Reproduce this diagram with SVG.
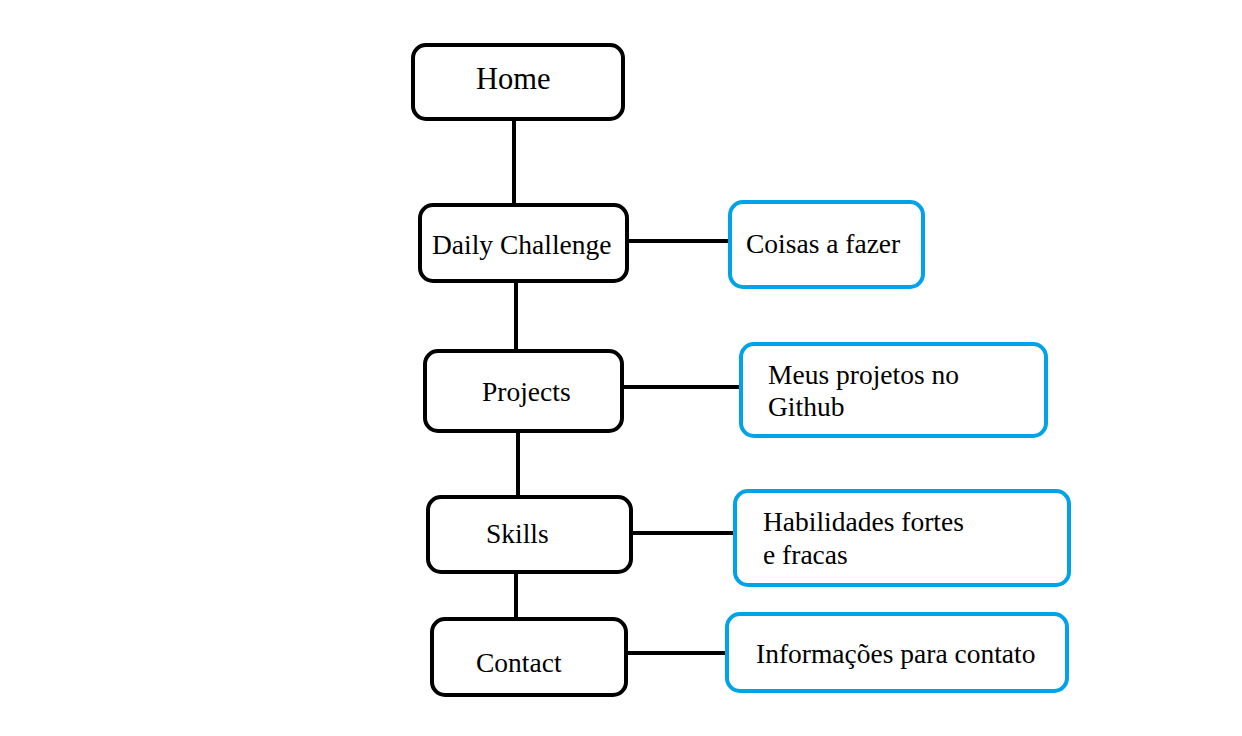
<svg xmlns="http://www.w3.org/2000/svg" width="1242" height="736" viewBox="0 0 1242 736">
<style>
.n{fill:#fff;stroke:#000;stroke-width:4}
.d{fill:#fff;stroke:#00a2e8;stroke-width:4}
.c{stroke:#000;stroke-width:4;fill:none}
text{font-family:"Liberation Serif","Times New Roman",serif;font-size:27.5px;fill:#000}
</style>
<rect width="1242" height="736" fill="#fff"/>
<g id="connectors">
<line class="c" x1="514" y1="119" x2="514" y2="205"/>
<line class="c" x1="516" y1="281" x2="516" y2="351"/>
<line class="c" x1="518" y1="431" x2="518" y2="497"/>
<line class="c" x1="516" y1="572" x2="516" y2="619"/>
<line class="c" x1="627" y1="241" x2="730" y2="241"/>
<line class="c" x1="622" y1="387" x2="741" y2="387"/>
<line class="c" x1="631" y1="533" x2="735" y2="533"/>
<line class="c" x1="626" y1="653" x2="727" y2="653"/>
</g>
<g id="home"><rect class="n" x="413" y="45" width="210" height="74" rx="13"/><text x="476" y="89" style="font-size:30.5px">Home</text></g>
<g id="daily"><rect class="n" x="420" y="205" width="207" height="76" rx="13"/><text x="432" y="254">Daily Challenge</text></g>
<g id="coisas"><rect class="d" x="730" y="202" width="193" height="85" rx="13"/><text x="746" y="253">Coisas a fazer</text></g>
<g id="projects"><rect class="n" x="425" y="351" width="197" height="80" rx="13"/><text x="482" y="401">Projects</text></g>
<g id="meus"><rect class="d" x="741" y="344" width="305" height="92" rx="13"/><text x="768" y="384">Meus projetos no</text><text x="768" y="416">Github</text></g>
<g id="skills"><rect class="n" x="428" y="497" width="203" height="75" rx="13"/><text x="486" y="543">Skills</text></g>
<g id="habilidades"><rect class="d" x="735" y="491" width="334" height="94" rx="13"/><text x="763" y="531">Habilidades fortes</text><text x="763" y="564">e fracas</text></g>
<g id="contact"><rect class="n" x="432" y="619" width="194" height="76" rx="13"/><text x="476" y="672">Contact</text></g>
<g id="info"><rect class="d" x="727" y="614" width="340" height="77" rx="13"/><text x="756" y="663">Informações para contato</text></g>
</svg>
